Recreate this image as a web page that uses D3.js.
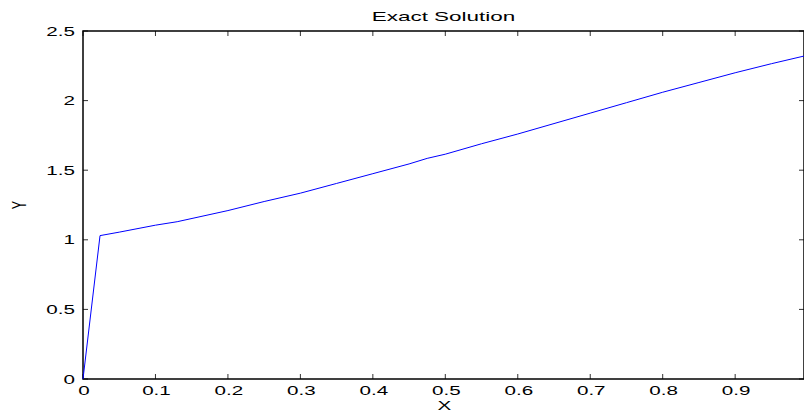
<!DOCTYPE html>
<html>
<head>
<meta charset="utf-8">
<script src="https://cdn.jsdelivr.net/npm/d3@7"></script>
<style>
  body { margin: 0; background: #fff; }
  svg { display: block; font-family: "Liberation Sans", Arial, sans-serif; }
  .tick-label { font-size: 12.5px; fill: #000; }
</style>
</head>
<body>
<svg id="chart" width="804" height="412"></svg>
<script>
// data
const xValues = [0, 0.0235, 0.05, 0.1, 0.13, 0.2, 0.25, 0.3, 0.35, 0.4, 0.45, 0.475, 0.5,
                 0.55, 0.6, 0.65, 0.7, 0.75, 0.8, 0.85, 0.9, 0.95, 0.995];
const yValues = [0, 1.03, 1.055, 1.105, 1.13, 1.21, 1.275, 1.335, 1.405, 1.475, 1.545, 1.585, 1.615,
                 1.69, 1.76, 1.835, 1.91, 1.985, 2.06, 2.13, 2.2, 2.265, 2.32];
const xTicks = [0, 0.1, 0.2, 0.3, 0.4, 0.5, 0.6, 0.7, 0.8, 0.9];
const yTicks = [0, 0.5, 1, 1.5, 2, 2.5];

const svg = d3.select("#chart");

// plot box
const boxLeft = 83, boxRight = 804, boxTop = 31, boxBottom = 379;
const tickLen = 5;
// the reference text is stretched sideways
const stretch = 1.65;

const x = d3.scaleLinear().domain([0, 0.995]).range([boxLeft, boxRight]);
const y = d3.scaleLinear().domain([0, 2.5]).range([boxBottom, boxTop]);

function label(px, py, anchor, txt, sx) {
    return svg.append("text").attr("class", "tick-label")
        .attr("transform", "translate(" + px + "," + py + ") scale(" + (sx || stretch) + ",1)")
        .attr("text-anchor", anchor)
        .text(txt);
}

// inward ticks on all four sides, matlab style
const g = svg.append("g");
xTicks.forEach(t => {
    g.append("line").attr("x1", x(t)).attr("x2", x(t))
        .attr("y1", boxBottom).attr("y2", boxBottom - tickLen).attr("stroke", "#333");
    g.append("line").attr("x1", x(t)).attr("x2", x(t))
        .attr("y1", boxTop).attr("y2", boxTop + tickLen).attr("stroke", "#333");
    label(x(t) + 1, boxBottom + 16, "middle", d3.format("~g")(t));
});
yTicks.forEach(t => {
    g.append("line").attr("x1", boxLeft).attr("x2", boxLeft + tickLen)
        .attr("y1", y(t)).attr("y2", y(t)).attr("stroke", "#333");
    g.append("line").attr("x1", boxRight).attr("x2", boxRight - tickLen)
        .attr("y1", y(t)).attr("y2", y(t)).attr("stroke", "#333");
    label(boxLeft - 8, y(t) + 4.5, "end", d3.format("~g")(t));
});

// box
svg.append("rect")
    .attr("x", boxLeft).attr("y", boxTop)
    .attr("width", boxRight - boxLeft).attr("height", boxBottom - boxTop)
    .attr("fill", "none").attr("stroke", "#000").attr("stroke-width", 1.5);

// the line
const line = d3.line().x(d => x(d[0])).y(d => y(d[1]));
svg.append("path")
    .datum(d3.zip(xValues, yValues))
    .attr("d", line)
    .attr("fill", "none")
    .attr("stroke", "#0000ff")
    .attr("stroke-width", 1);

// title and axis labels
label((boxLeft + boxRight) / 2, 21, "middle", "Exact Solution", 1.8);
label((boxLeft + boxRight) / 2 + 1, 410, "middle", "X");
svg.append("text").attr("class", "tick-label")
    .attr("transform", "translate(26," + ((boxTop + boxBottom) / 2) + ") scale(" + stretch + ",1) rotate(-90)")
    .attr("text-anchor", "middle").text("Y");
</script>
</body>
</html>
